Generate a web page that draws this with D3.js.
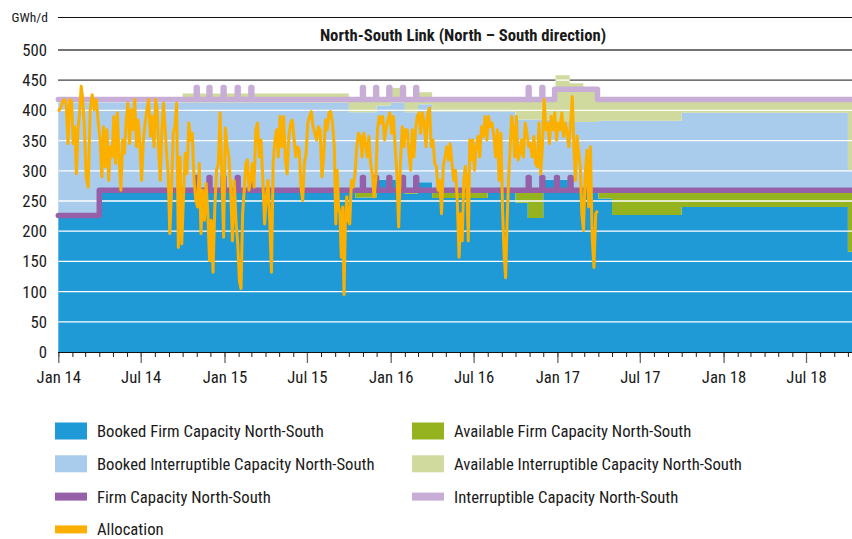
<!DOCTYPE html>
<html>
<head>
<meta charset="utf-8">
<title>North-South Link</title>
<style>
  body, html { margin: 0; padding: 0; background: #fff; }
  svg text {
    font-family: "Liberation Sans Narrow", "Roboto Condensed", "DejaVu Sans Condensed", sans-serif;
    font-stretch: condensed;
    fill: #1a1a1a;
  }
</style>
</head>
<body>
<svg id="svg" width="852" height="539"></svg>
<script src="https://d3js.org/d3.v7.min.js"></script>
<script>
// stacked capacity areas, GWh/d, each value holds until the next date
const stepDates = ["2014-01-01", "2014-04-01", "2014-10-01", "2015-10-01", "2015-10-15", "2015-12-01",
  "2016-01-01", "2016-02-01", "2016-03-01", "2016-04-01", "2016-08-01", "2016-10-01", "2016-10-28",
  "2016-12-01", "2016-12-28", "2017-01-28", "2017-02-27", "2017-04-01", "2017-05-01", "2017-10-01", "2018-10-01"]
const bookedFirm =             [226, 268, 268, 268, 256, 285, 285, 262, 281, 255, 268, 247, 222, 285, 285, 268, 268, 254, 227, 240, 166]
const availableFirm =          [0, 0, 0, 0, 12, 0, 0, 6, 0, 13, 0, 21, 46, 0, 0, 0, 0, 14, 41, 28, 102]
const bookedInterruptible =    [187, 145, 145, 129, 129, 123, 128, 129, 129, 130, 130, 117, 117, 100, 96, 113, 113, 115, 115, 128, 33]
const availableInterruptible = [0, 0, 15, 21, 21, 10, 24, 21, 20, 20, 20, 33, 33, 33, 77, 64, 54, 35, 35, 22, 117]
const endDate = "2018-10-10"

// capacity lines: base steps plus short month-end peaks
const firmCapacitySteps = [["2014-01-01", 226], ["2014-04-01", 268]]
const interruptibleCapacitySteps = [["2014-01-01", 418], ["2016-12-26", 435], ["2017-03-30", 418]]
const firmPeakDates = ["2014-10-31", "2014-11-28", "2014-12-29", "2015-01-29", "2015-02-28",
  "2015-10-31", "2015-11-29", "2015-12-28", "2016-01-27", "2016-02-25",
  "2016-10-29", "2016-11-28", "2016-12-30", "2017-01-29"]
const interruptiblePeakDates = ["2014-10-31", "2014-11-28", "2014-12-29", "2015-01-29", "2015-02-28",
  "2015-10-31", "2015-11-29", "2015-12-28", "2016-01-27", "2016-02-25",
  "2016-10-29", "2016-11-28"]
const firmPeak = 289
const interruptiblePeak = 438

// allocation, one row per month from Jan 2014
const allocationStart = "2014-01-01"
const allocation = [
  [398, 405, 415, 418, 410, 345, 418, 415],
  [345, 373, 295, 368, 396, 440, 418, 373],
  [290, 273, 401, 426, 401, 418, 379],
  [351, 290, 373, 307, 368, 284, 340, 323],
  [390, 312, 396, 318, 268, 351, 329, 384],
  [412, 345, 401, 368, 418, 340, 384, 345],
  [284, 351, 379, 401, 418, 357, 390, 340],
  [418, 401, 329, 284, 368, 412, 373, 329, 295],
  [196, 268, 362, 373, 412, 173, 323, 179],
  [257, 329, 295, 379, 351, 362, 284, 251],
  [240, 312, 196, 268, 218, 279, 229, 151],
  [218, 132, 240, 301, 312, 396, 290, 190],
  [371, 340, 323, 268, 184, 284, 218, 179],
  [118, 105, 229, 268, 312, 318, 268, 284],
  [312, 273, 368, 379, 323, 351, 284, 212],
  [257, 284, 218, 132, 312, 351, 368, 323],
  [390, 340, 390, 318, 295, 357, 379, 384],
  [351, 323, 340, 334, 273, 251, 312, 329],
  [379, 390, 398, 373, 362, 351, 373, 368],
  [290, 323, 384, 368, 396, 398, 379, 340],
  [212, 301, 240, 229, 157, 240, 95, 218, 257, 218],
  [212, 284, 273, 295, 340, 362, 357, 323],
  [362, 345, 323, 357, 312, 295, 257, 284],
  [368, 390, 379, 390, 351, 373, 384, 396],
  [362, 390, 340, 295, 207, 312, 373, 340],
  [368, 368, 329, 301, 368, 323, 368, 390],
  [396, 362, 396, 379, 340, 396, 404, 340],
  [351, 312, 307, 268, 284, 229, 307, 323],
  [340, 318, 345, 312, 284, 301, 251, 157],
  [229, 184, 284, 307, 284, 184, 351, 318, 351],
  [301, 340, 357, 323, 373, 357, 390, 351],
  [390, 373, 379, 357, 323, 368, 284, 362],
  [234, 162, 123, 218, 290, 340, 390, 368, 323],
  [390, 318, 329, 351, 323, 379, 362, 340],
  [345, 323, 357, 312, 307, 379, 295, 340],
  [418, 368, 379, 345, 390, 368, 396, 351],
  [379, 368, 396, 357, 379, 362, 340, 379],
  [423, 340, 284, 357, 329, 307, 229, 201],
  [290, 334, 240, 340, 190, 140, 229, 234]
]

const yTicks = [0, 50, 100, 150, 200, 250, 300, 350, 400, 450, 500]

const colors = {
  bookedFirm: '#1f9ad6',
  availableFirm: '#95b31e',
  bookedInterruptible: '#a9cbec',
  availableInterruptible: '#d0d99e',
  firmCapacity: '#9560a8',
  interruptibleCapacity: '#c8aed6',
  allocation: '#fbb000'
}

const parse = d3.utcParse('%Y-%m-%d')
const svg = d3.select('#svg')
const fontSize = '16.7px'

const x = d3.scaleUtc()
  .domain([parse('2014-01-01'), parse(endDate)])
  .range([58.3, 852])
const y = d3.scaleLinear()
  .domain([0, 500])
  .range([352, 50])

// top frame line, unit and title
svg.append('line')
  .attr('x1', 58).attr('x2', 852).attr('y1', 17.5).attr('y2', 17.5)
  .attr('stroke', '#111').attr('stroke-width', 1.2)
svg.append('text')
  .attr('x', 48).attr('y', 22)
  .attr('text-anchor', 'end')
  .style('font-size', '13.5px')
  .text('GWh/d')
svg.append('text')
  .attr('x', 463).attr('y', 41)
  .attr('text-anchor', 'middle')
  .style('font-size', fontSize)
  .style('font-weight', 'bold')
  .text('North-South Link (North – South direction)')

// dark gridlines behind the areas
svg.append('g')
  .selectAll('line')
  .data(yTicks.filter(d => d > 0))
  .join('line')
  .attr('x1', 58).attr('x2', 852)
  .attr('y1', d => y(d)).attr('y2', d => y(d))
  .attr('stroke', '#444').attr('stroke-width', 1.3)

// stacked areas
const keys = ['bookedFirm', 'availableFirm', 'bookedInterruptible', 'availableInterruptible']
const source = { bookedFirm, availableFirm, bookedInterruptible, availableInterruptible }
const rows = stepDates.map((d, i) => {
  const row = { date: parse(d) }
  keys.forEach(k => { row[k] = source[k][i] })
  return row
})
rows.push(Object.assign({}, rows[rows.length - 1], { date: parse(endDate) }))

const stacked = d3.stack().keys(keys)(rows)
const area = d3.area()
  .curve(d3.curveStepAfter)
  .x(d => x(d.data.date))
  .y0(d => y(d[0]))
  .y1(d => y(d[1]))

svg.append('g')
  .selectAll('path')
  .data(stacked)
  .join('path')
  .attr('fill', d => colors[d.key])
  .attr('d', area)

// white gridlines only where the areas are
const topArea = d3.area()
  .curve(d3.curveStepAfter)
  .x(d => x(d.data.date))
  .y0(y(0))
  .y1(d => y(d[1]))
svg.append('clipPath').attr('id', 'areaClip')
  .append('path').attr('d', topArea(stacked[stacked.length - 1]))
svg.append('g')
  .attr('clip-path', 'url(#areaClip)')
  .selectAll('line')
  .data(yTicks.filter(d => d > 0))
  .join('line')
  .attr('x1', 58).attr('x2', 852)
  .attr('y1', d => y(d)).attr('y2', d => y(d))
  .attr('stroke', '#fff').attr('stroke-width', 1.3)

// capacity lines
function capacitySeries(steps, peaks, peakValue) {
  const peakStarts = peaks.map(parse)
  let times = steps.map(s => parse(s[0]))
  peakStarts.forEach(p => times.push(p, d3.utcDay.offset(p, 2)))
  times.push(parse(endDate))
  times = Array.from(new Set(times.map(t => +t))).sort((a, b) => a - b).map(t => new Date(t))
  return times.map(t => {
    let v = steps.filter(s => parse(s[0]) <= t).pop()[1]
    if (peakStarts.some(p => t >= p && t < d3.utcDay.offset(p, 2))) v = peakValue
    return { date: t, value: v }
  })
}

const stepLine = d3.line()
  .curve(d3.curveStepAfter)
  .x(d => x(d.date))
  .y(d => y(d.value))

svg.append('path')
  .datum(capacitySeries(interruptibleCapacitySteps, interruptiblePeakDates, interruptiblePeak))
  .attr('fill', 'none')
  .attr('stroke', colors.interruptibleCapacity)
  .attr('stroke-width', 5.5)
  .attr('stroke-linejoin', 'round')
  .attr('stroke-linecap', 'round')
  .attr('d', stepLine)

svg.append('path')
  .datum(capacitySeries(firmCapacitySteps, firmPeakDates, firmPeak))
  .attr('fill', 'none')
  .attr('stroke', colors.firmCapacity)
  .attr('stroke-width', 5.5)
  .attr('stroke-linejoin', 'round')
  .attr('stroke-linecap', 'round')
  .attr('d', stepLine)

// allocation
const allocStart = parse(allocationStart)
const allocPoints = []
allocation.forEach((vals, m) => {
  const m0 = d3.utcMonth.offset(allocStart, m)
  const m1 = d3.utcMonth.offset(allocStart, m + 1)
  vals.forEach((v, i) => {
    const t = m === 0 && i === 0 ? m0 : new Date(+m0 + (i + 0.5) / vals.length * (m1 - m0))
    allocPoints.push({ date: t, value: v })
  })
})

svg.append('path')
  .datum(allocPoints)
  .attr('fill', 'none')
  .attr('stroke', colors.allocation)
  .attr('stroke-width', 3)
  .attr('stroke-linejoin', 'round')
  .attr('d', d3.line().x(d => x(d.date)).y(d => y(d.value)))

// y labels
svg.append('g')
  .selectAll('text')
  .data(yTicks)
  .join('text')
  .attr('x', 47)
  .attr('y', d => y(d))
  .attr('dy', '0.36em')
  .attr('text-anchor', 'end')
  .style('font-size', fontSize)
  .text(d => d)

// x axis
const minorAxis = d3.axisBottom(x)
  .ticks(d3.utcMonth.every(1))
  .tickSize(5)
  .tickFormat('')
const majorAxis = d3.axisBottom(x)
  .ticks(d3.utcMonth.every(6))
  .tickSize(11)
  .tickPadding(8)
  .tickFormat(d3.utcFormat('%b %y'))

const gMinor = svg.append('g').attr('transform', 'translate(0,352)').call(minorAxis)
gMinor.select('.domain').remove()
gMinor.selectAll('line').attr('stroke', '#222')
const gMajor = svg.append('g').attr('transform', 'translate(0,352)').call(majorAxis)
gMajor.select('.domain').remove()
gMajor.selectAll('line').attr('stroke', '#666').attr('stroke-width', 1.3)
gMajor.selectAll('text')
  .style('font-size', fontSize)
  .style('font-family', null)
  .attr('fill', null)
svg.append('line')
  .attr('x1', 58).attr('x2', 852).attr('y1', 352.5).attr('y2', 352.5)
  .attr('stroke', '#111').attr('stroke-width', 1.2)

// legend
const legendItems = [
  { key: 'bookedFirm', label: 'Booked Firm Capacity North-South', type: 'box', col: 0, row: 0 },
  { key: 'bookedInterruptible', label: 'Booked Interruptible Capacity North-South', type: 'box', col: 0, row: 1 },
  { key: 'firmCapacity', label: 'Firm Capacity North-South', type: 'line', col: 0, row: 2 },
  { key: 'allocation', label: 'Allocation', type: 'line', col: 0, row: 3 },
  { key: 'availableFirm', label: 'Available Firm Capacity North-South', type: 'box', col: 1, row: 0 },
  { key: 'availableInterruptible', label: 'Available Interruptible Capacity North-South', type: 'box', col: 1, row: 1 },
  { key: 'interruptibleCapacity', label: 'Interruptible Capacity North-South', type: 'line', col: 1, row: 2 }
]
const legend = svg.append('g')
  .selectAll('g')
  .data(legendItems)
  .join('g')
  .attr('transform', d => `translate(${d.col ? 412 : 55},${431 + d.row * 32.8})`)
legend.append('rect')
  .attr('x', 0)
  .attr('y', d => d.type === 'box' ? -8.5 : -4)
  .attr('width', 32)
  .attr('height', d => d.type === 'box' ? 17 : 8)
  .attr('fill', d => colors[d.key])
legend.append('text')
  .attr('x', 42)
  .attr('dy', '0.36em')
  .style('font-size', fontSize)
  .text(d => d.label)
</script>
</body>
</html>
